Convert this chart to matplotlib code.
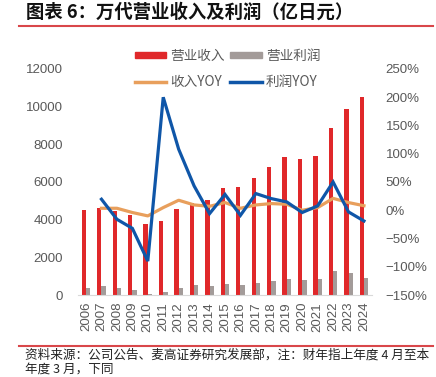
import matplotlib.pyplot as plt
from matplotlib.patches import Patch
from matplotlib.lines import Line2D
from matplotlib.ticker import FuncFormatter, MultipleLocator

years = [str(y) for y in range(2006, 2025)]
revenue = [4510, 4600, 4450, 4260, 3790, 3940, 4540, 4880, 5060, 5660, 5760,
           6200, 6780, 7330, 7240, 7400, 8880, 9870, 10500]
profit = [390, 460, 370, 250, 40, 180, 390, 530, 500, 580, 530,
          650, 760, 860, 810, 860, 1270, 1190, 920]
rev_yoy_years = years[1:]
rev_yoy = [3.5, 3.5, -4, -10, 4.7, 17.7, 9.4, 7, 13.6, 3.5, 9.4,
           11.8, 10.6, 0, 4.7, 21, 13.6, 8]
prof_yoy = [19.5, -16, -32, -90, 200, 108, 43, -6, 28, -9, 29.5,
            20.6, 14.7, -4, 7.7, 50, -3, -19]

RED = "#e0282a"
GRAY = "#a39b99"
ORANGE = "#e89f5c"
BLUE = "#0f56a8"
TXT = "#595959"
CJK = ["Noto Sans CJK SC", "DejaVu Sans"]
NUM = ["Liberation Sans", "Noto Sans CJK SC"]

fig = plt.figure(figsize=(4.36, 3.77), dpi=100)
ax = fig.add_axes([0.1796, 0.2175, 0.6729, 0.5995])
ax2 = ax.twinx()

x = list(range(len(years)))
w = 0.28
ax.bar([i - w / 2 for i in x], revenue, width=w, color=RED, zorder=2)
ax.bar([i + w / 2 for i in x], profit, width=w, color=GRAY, zorder=2)
ax.set_xlim(-0.5, len(years) - 0.5)
ax.set_ylim(0, 12000)
ax.yaxis.set_major_locator(MultipleLocator(2000))
ax.set_xticks(x)
ax.set_xticklabels(years, rotation=90)

xy = x[1:]
ax2.plot(xy, rev_yoy, color=ORANGE, lw=2.3, solid_joinstyle="round")
ax2.plot(xy, prof_yoy, color=BLUE, lw=2.3, solid_joinstyle="miter")
ax2.set_ylim(-150, 250)
ax2.yaxis.set_major_locator(MultipleLocator(50))
ax2.yaxis.set_major_formatter(
    FuncFormatter(lambda v, p: f"{v:.0f}%".replace("-", "\u2212")))

for a in (ax, ax2):
    for s in a.spines.values():
        s.set_visible(False)
    a.tick_params(length=0, colors=TXT, labelsize=9.5)
    for lab in a.get_xticklabels() + a.get_yticklabels():
        lab.set_family(NUM)
ax.spines["bottom"].set_visible(True)
ax.spines["bottom"].set_color("#d9d9d9")
ax.tick_params(axis="y", pad=11)
ax.tick_params(axis="x", pad=5)
ax2.tick_params(axis="y", pad=10)

handles = [Patch(color=RED), Line2D([], [], color=ORANGE, lw=2.5),
           Patch(color=GRAY), Line2D([], [], color=BLUE, lw=2.5)]
labels = ["营业收入", "收入YOY", "营业利润", "利润YOY"]
fig.legend(handles, labels, ncol=2, loc="center", bbox_to_anchor=(0.522, 0.817),
           frameon=False, prop={"family": CJK, "size": 9.8}, labelcolor=TXT,
           handlelength=2.3, handleheight=0.35, handletextpad=0.3,
           columnspacing=0.4, labelspacing=0.9)

fig.text(0.06, 0.968, "图表 6：万代营业收入及利润（亿日元）", family=CJK,
         fontsize=13.2, fontweight="bold", va="center", ha="left", color="#111111")
fig.add_artist(Line2D([0.044, 0.993], [0.931, 0.931], color="#d9474a", lw=1.5))
fig.add_artist(Line2D([0.044, 0.993], [0.082, 0.082], color="#d9474a", lw=1.5))
fig.text(0.058, 0.058, "资料来源：公司公告、麦高证券研究发展部，注：财年指上年度 4 月至本",
         family=CJK, fontsize=9.1, va="center", ha="left", color="#222222")
fig.text(0.058, 0.004, "年度 3 月，下同", family=CJK, fontsize=9.1,
         va="bottom", ha="left", color="#222222")

fig.savefig("out.png", dpi=100)
